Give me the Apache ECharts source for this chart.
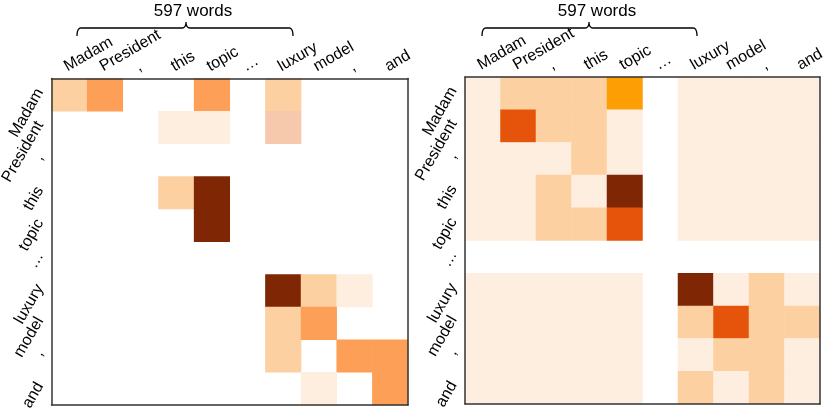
<!DOCTYPE html>
<html lang="en">
<head>
    <meta charset="UTF-8">
    <title>attention maps</title>
    <script src="https://cdn.jsdelivr.net/npm/echarts@6/dist/echarts.min.js"></script>
    <style>
        html, body { margin: 0; padding: 0; background: #fff; }
        #chart { width: 830px; height: 410px; }
    </style>
</head>
<body>
    <div id="chart"></div>
    <script>
        // token labels (same for rows and columns)
        var words = ['Madam', 'President', ',', 'this', 'topic', '\u2026', 'luxury', 'model', ',', 'and'];
        var spanLabel = '597 words';

        // shade level of every cell, row by row (0 = empty / white)
        var leftLevels = [
            [2, 4, 0, 0, 4, 0, 2, 0, 0, 0],
            [0, 0, 0, 1, 1, 0, 3, 0, 0, 0],
            [0, 0, 0, 0, 0, 0, 0, 0, 0, 0],
            [0, 0, 0, 2, 7, 0, 0, 0, 0, 0],
            [0, 0, 0, 0, 7, 0, 0, 0, 0, 0],
            [0, 0, 0, 0, 0, 0, 0, 0, 0, 0],
            [0, 0, 0, 0, 0, 0, 7, 2, 1, 0],
            [0, 0, 0, 0, 0, 0, 2, 4, 0, 0],
            [0, 0, 0, 0, 0, 0, 2, 0, 4, 4],
            [0, 0, 0, 0, 0, 0, 0, 1, 0, 4]
        ];
        var rightLevels = [
            [1, 2, 2, 2, 5, 0, 1, 1, 1, 1],
            [1, 6, 2, 2, 1, 0, 1, 1, 1, 1],
            [1, 1, 1, 2, 1, 0, 1, 1, 1, 1],
            [1, 1, 2, 1, 7, 0, 1, 1, 1, 1],
            [1, 1, 2, 2, 6, 0, 1, 1, 1, 1],
            [0, 0, 0, 0, 0, 0, 0, 0, 0, 0],
            [1, 1, 1, 1, 1, 0, 7, 1, 2, 1],
            [1, 1, 1, 1, 1, 0, 2, 6, 2, 2],
            [1, 1, 1, 1, 1, 0, 1, 2, 2, 1],
            [1, 1, 1, 1, 1, 0, 2, 1, 2, 1]
        ];
        var levelColors = ['#ffffff', '#feeedf', '#fdd0a2', '#f6c9ad', '#fd9f56', '#fd9e04', '#e5540a', '#7f2704'];

        function toCells(levels) {
            var out = [];
            for (var r = 0; r < levels.length; r++) {
                for (var c = 0; c < levels[r].length; c++) {
                    if (levels[r][c] > 0) out.push([c, r, levels[r][c]]);
                }
            }
            return out;
        }

        var font = 'Liberation Sans, Arial, sans-serif';
        var boxLine = { show: true, onZero: false, lineStyle: { color: '#333', width: 1.5 } };

        function labelAxis(grid, pos, rot, margin, lh) {
            return {
                type: 'category', gridIndex: grid, position: pos, data: words,
                inverse: pos === 'left', z: 5,
                axisLine: boxLine, axisTick: { show: false }, splitLine: { show: false },
                axisLabel: {
                    interval: 0, rotate: rot, margin: margin, verticalAlign: 'bottom', lineHeight: lh,
                    color: '#000', fontSize: 16, fontFamily: font
                }
            };
        }
        function frameAxis(grid, pos) {
            return {
                type: 'category', gridIndex: grid, position: pos, data: words,
                inverse: pos === 'right', z: 5,
                axisLine: boxLine, axisTick: { show: false }, axisLabel: { show: false }, splitLine: { show: false }
            };
        }

        // curly brace as a polyline (small quadratic corners)
        function quad(p0, p1, p2, pts) {
            for (var i = 1; i <= 6; i++) {
                var t = i / 6, u = 1 - t;
                pts.push([u * u * p0[0] + 2 * u * t * p1[0] + t * t * p2[0], u * u * p0[1] + 2 * u * t * p1[1] + t * t * p2[1]]);
            }
        }
        function brace(x0, x1, xm) {
            var pts = [[x0, 36]];
            quad([x0, 36], [x0, 28], [x0 + 4, 28], pts);
            pts.push([xm - 4, 28]);
            quad([xm - 4, 28], [xm, 28], [xm, 22], pts);
            quad([xm, 22], [xm, 28], [xm + 4, 28], pts);
            pts.push([x1 - 4, 28]);
            quad([x1 - 4, 28], [x1, 28], [x1, 36], pts);
            return { type: 'polyline', shape: { points: pts }, style: { stroke: '#000', fill: null, lineWidth: 1.3 } };
        }

        var chart = echarts.init(document.getElementById('chart'));
        chart.setOption({
            animation: false,
            grid: [
                { left: 51.5, top: 78.5, width: 356.5, height: 326.5, outerBoundsMode: 'none' },
                { left: 465, top: 77, width: 355, height: 327, outerBoundsMode: 'none' }
            ],
            xAxis: [labelAxis(0, 'top', -30, 4, 16), labelAxis(1, 'top', -30, 4, 16), frameAxis(0, 'bottom'), frameAxis(1, 'bottom')],
            yAxis: [labelAxis(0, 'left', 60, 3, 20), labelAxis(1, 'left', 60, 3, 20), frameAxis(0, 'right'), frameAxis(1, 'right')],
            visualMap: {
                type: 'piecewise', show: false, seriesIndex: [0, 1], dimension: 2,
                pieces: levelColors.map(function (c, i) { return { value: i, color: c }; })
            },
            series: [
                { type: 'heatmap', xAxisIndex: 0, yAxisIndex: 0, data: toCells(leftLevels), itemStyle: { borderWidth: 0 } },
                { type: 'heatmap', xAxisIndex: 1, yAxisIndex: 1, data: toCells(rightLevels), itemStyle: { borderWidth: 0 } }
            ],
            graphic: [
                { type: 'text', x: 193, y: 11, style: { text: spanLabel, align: 'center', verticalAlign: 'middle', fontSize: 17, fontFamily: font, fill: '#000' } },
                { type: 'text', x: 597, y: 11, style: { text: spanLabel, align: 'center', verticalAlign: 'middle', fontSize: 17, fontFamily: font, fill: '#000' } },
                brace(77, 293, 186),
                brace(482, 697, 589)
            ]
        });
    </script>
</body>
</html>
